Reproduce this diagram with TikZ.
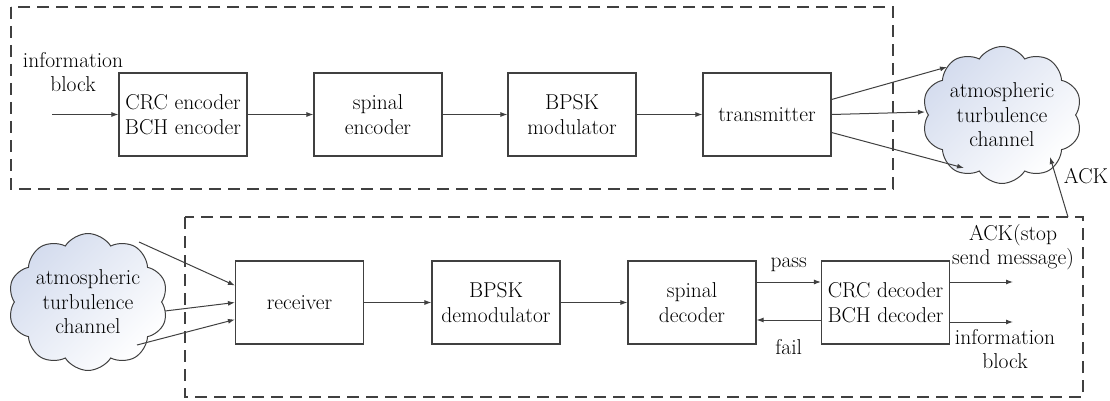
\documentclass[tikz,border=0pt]{standalone}
\usetikzlibrary{shapes.symbols,arrows.meta}
\definecolor{haze}{RGB}{212,220,238}
\begin{document}
\begin{tikzpicture}[x=1pt,y=-1pt,
  every node/.style={font=\fontsize{21.5}{24.5}\selectfont, text=black},
  blk/.style={draw=black!75, line width=1.1pt, minimum width=128pt, minimum height=83pt, align=center, inner sep=0pt},
  frame/.style={draw=black!75, line width=1.4pt, dash pattern=on 12pt off 7pt},
  link/.style={draw=black!75, line width=1pt, -{Latex[length=7pt,width=5pt]}},
  turb/.style={cloud, cloud puffs=10, cloud puff arc=115, aspect=1.25, draw=black!75, line width=1pt,
    minimum width=154pt, minimum height=124pt, inner sep=0pt, align=center,
    left color=haze, right color=white, shading angle=45},
  lbl/.style={align=center, inner sep=0pt}]
\useasboundingbox (0,0) rectangle (1110,401);

% transmitter chain
\draw[frame] (11,7) rectangle (893,189);
\node[blk] (crc) at (183,114.5) {CRC encoder\\BCH encoder};
\node[blk] (senc) at (378,114.5) {spinal\\encoder};
\node[blk] (mod) at (572,114.5) {BPSK\\modulator};
\node[blk] (tx) at (767,114.5) {transmitter};
\node[lbl] (inlbl) at (73,72) {information\\block};
\coordinate (in) at (52,114.5);
\node[turb] (ch1) at (1002,115) {atmospheric\\turbulence\\channel};

\draw[link] (in) -- (crc);
\draw[link] (crc) -- (senc);
\draw[link] (senc) -- (mod);
\draw[link] (mod) -- (tx);
\draw[link] ([yshift=15pt]tx.east) -- (947,67);
\draw[link] (tx.east) -- (925,112);
\draw[link] ([yshift=-18pt]tx.east) -- (964,168);

% receiver chain
\draw[frame] (185,217) rectangle (1083,397);
\node[turb] (ch2) at (88,302) {atmospheric\\turbulence\\channel};
\node[blk] (rx) at (299.5,302.5) {receiver};
\node[blk] (demod) at (496,302.5) {BPSK\\demodulator};
\node[blk] (sdec) at (692,302.5) {spinal\\decoder};
\node[blk] (cdec) at (885.5,302.5) {CRC decoder\\BCH decoder};
\coordinate (ackout) at (1013,282);
\coordinate (infout) at (1013,322);

\draw[link] (139,242) -- ([yshift=17pt]rx.west);
\draw[link] (165,311) -- (rx.west);
\draw[link] (137,345) -- ([yshift=-17pt]rx.west);
\draw[link] (rx) -- (demod);
\draw[link] (demod) -- (sdec);
\draw[link] (sdec.east |- 0,282) -- (cdec.west |- 0,282) node[lbl, midway, above=10pt] (pass) {pass};
\draw[link] (cdec.west |- 0,320) -- (sdec.east |- 0,320) node[lbl, midway, below=19pt] (fail) {fail};
\draw[link] (cdec.east |- ackout) -- (ackout);
\draw[link] (cdec.east |- infout) -- (infout);
\node[lbl] (acklbl) at (1013,247) {ACK(stop\\send message)};
\node[lbl] (inflbl) at (1005,349) {information\\block};

% acknowledgement back to the channel
\coordinate (ackup) at (1068,217);
\draw[link] (ackup) -- (1050,157);
\node[lbl] (ack) at (1086,176) {ACK};
\end{tikzpicture}
\end{document}
